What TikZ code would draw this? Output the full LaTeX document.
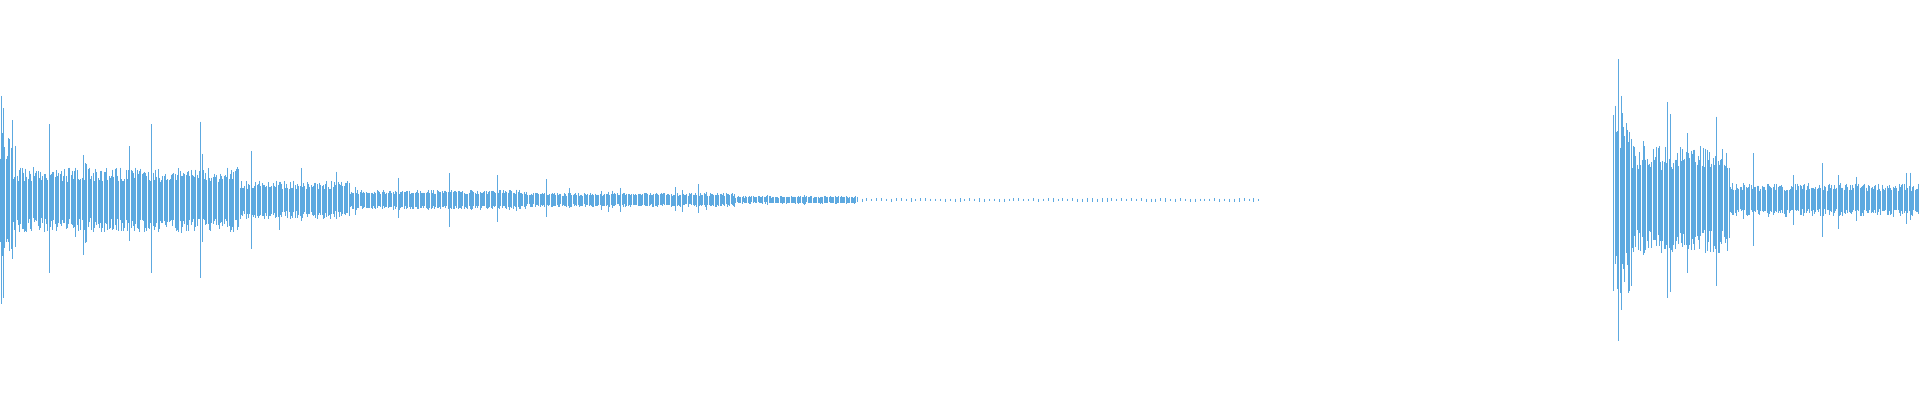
\documentclass[tikz,border=0pt]{standalone}
\definecolor{wave}{HTML}{5DA9E0}
\begin{document}
\begin{tikzpicture}[x=1.2245pt,y=1.2245pt,wl/.style={draw=wave,line width=0.9pt}]
\useasboundingbox (0,0) rectangle (1568,326.6);
\pgfmathsetseed{7}
\def\cy{163.3}
\foreach \a/\b/\base/\st/\sp in {0/10/50/1/1.3, 10/195/24/1/1.7, 195/285/14/1/1.7, 285/430/7/1/1.8, 430/600/5/1/1.8, 600/700/2.5/1/1.5, 700/1030/0.9/4/1, 1318/1332/70/1/1.2, 1332/1412/40/1/1.4, 1412/1568/12/1/1.8}{
  \pgfmathtruncatemacro\nx{\a+\st}
  \foreach \x in {\a,\nx,...,\b}{
    \pgfmathsetmacro\m{rnd>0.95?\sp:1}
    \pgfmathsetmacro\u{\base*(0.6+0.5*rnd)*\m+0.4}
    \pgfmathsetmacro\d{\base*(0.6+0.5*rnd)*\m+0.4}
    \draw[wl] (\x,\cy+\u) -- (\x,\cy-\d);
  }
}
\foreach \x/\u/\d in {1/85/85, 3/75/80, 40/62/60, 124/62/60, 164/64/64, 205/40/40, 325/18/15, 367/22/22, 406/20/18, 446/17/14, 570/13/11, 1322/115/115, 1324/85/90, 1362/80/80, 1364/70/75, 1402/68/70, 1432/38/38, 1488/30/30}{
  \draw[wl] (\x,\cy+\u) -- (\x,\cy-\d);
}
\end{tikzpicture}
\end{document}
